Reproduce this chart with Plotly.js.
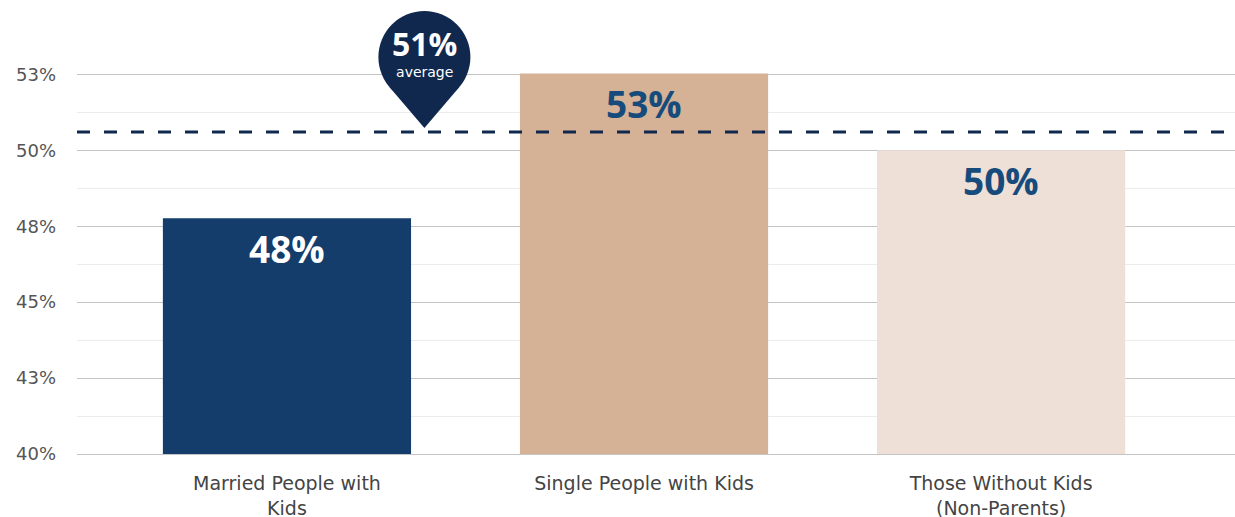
<!DOCTYPE html>
<html>
<head>
<meta charset="utf-8">
<script src="https://cdn.plot.ly/plotly-3.0.1.min.js"></script>
<style>html,body{margin:0;padding:0;background:#fff;}#chart{width:1235px;height:517px;}</style>
</head>
<body>
<div id="chart"></div>
<script>
// Data
const categories = ["Married People with Kids", "Single People with Kids", "Those Without Kids (Non-Parents)"];
const tickLabels = ["Married People with<br>Kids", "Single People with Kids", "Those Without Kids<br>(Non-Parents)"];
const values = [0.4776, 0.5253, 0.500];
const averageValue = 0.506;
const yTickVals = [0.40, 0.425, 0.45, 0.475, 0.50, 0.525];
const yTickText = ["40%", "43%", "45%", "48%", "50%", "53%"];

// Styles
const barColors = ["#143d6b", "#d5b196", "#eee0d6"];
const labelColors = ["#ffffff", "#164b7c", "#164b7c"];
const navy = "#10284e";
const boldFont = "'Open Sans', 'DejaVu Sans', sans-serif";
const textFont = "'DejaVu Sans', sans-serif";
const yRange = [0.40, 0.535];

const pct = v => Math.round(v * 100) + "%";

const trace = {
  type: "bar",
  x: categories,
  y: values,
  width: 0.695,
  marker: { color: barColors, line: { width: 0 } },
  hoverinfo: "skip"
};

const barAnnotations = categories.map((c, i) => ({
  x: c, y: values[i], xref: "x", yref: "y",
  text: pct(values[i]), showarrow: false,
  xanchor: "center", yanchor: "middle", yshift: -30,
  font: { family: boldFont, size: 37, color: labelColors[i], weight: 700 }
}));

// pin anchor in paper coordinates (tip sits on the average line)
const pinX = 0.30;
const pinY = (averageValue - yRange[0]) / (yRange[1] - yRange[0]);

const pinText = "<span style='font-family:Open Sans;font-size:32px;font-weight:bold'>" +
  pct(averageValue) + "</span><br><span style='font-size:14px'>average</span>";

const layout = {
  width: 1235, height: 517,
  margin: { l: 77, r: 0, t: 44, b: 63 },
  paper_bgcolor: "#ffffff", plot_bgcolor: "#ffffff",
  showlegend: false,
  font: { family: textFont },
  xaxis: {
    type: "category",
    range: [-0.588, 2.655],
    tickvals: categories, ticktext: tickLabels,
    tickfont: { family: textFont, size: 19, color: "#444444" },
    showgrid: false, zeroline: false,
    showline: true, linecolor: "#c4c4c4", linewidth: 1,
    ticks: "", ticklabelstandoff: 12
  },
  yaxis: {
    range: yRange,
    tickmode: "array", tickvals: yTickVals, ticktext: yTickText,
    tickfont: { family: textFont, size: 18, color: "#555555" },
    showgrid: true, gridcolor: "#c4c4c4", gridwidth: 1,
    zeroline: false, ticks: "", ticklabelstandoff: 20,
    minor: { tick0: 0.4, dtick: 0.0125, showgrid: true, gridcolor: "#ececec", gridwidth: 1, ticks: "" }
  },
  shapes: [
    { type: "line", xref: "paper", yref: "y", x0: 0, x1: 0.992, y0: averageValue, y1: averageValue,
      line: { color: navy, width: 3, dash: "13px,14px" }, layer: "above" },
    { type: "circle", xref: "paper", yref: "paper", xsizemode: "pixel", ysizemode: "pixel",
      xanchor: pinX, yanchor: pinY, x0: -46, x1: 46, y0: 29, y1: 121,
      fillcolor: navy, line: { width: 0 }, layer: "above" },
    { type: "path", xref: "paper", yref: "paper", xsizemode: "pixel", ysizemode: "pixel",
      xanchor: pinX, yanchor: pinY,
      path: "M -35 45 L 0 4 L 35 45 Z",
      fillcolor: navy, line: { width: 0 }, layer: "above" }
  ],
  annotations: barAnnotations.concat([
    { xref: "paper", yref: "paper", x: pinX, y: pinY, text: pinText, showarrow: false,
      xanchor: "center", yanchor: "middle", yshift: 81, align: "center",
      font: { family: textFont, size: 16, color: "#ffffff" } }
  ])
};

Plotly.newPlot("chart", [trace], layout, { staticPlot: true, displayModeBar: false });
</script>
</body>
</html>
